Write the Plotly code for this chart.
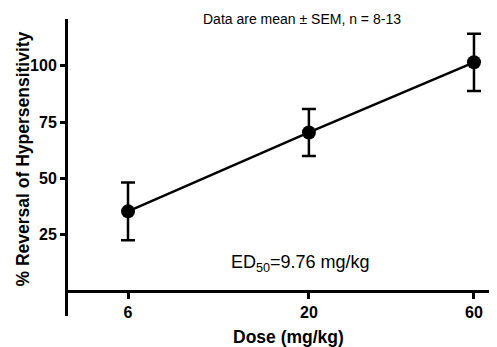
import plotly.graph_objects as go

doses = [6, 20, 60]
mean_reversal = [35.4, 70.4, 101.5]
sem = [12.8, 10.4, 12.7]
y_ticks = [25, 50, 75, 100]
x_ticks = [6, 20, 60]

fig = go.Figure()
fig.add_trace(go.Scatter(
    x=doses, y=mean_reversal, mode="lines+markers",
    line=dict(color="black", width=2.5),
    marker=dict(color="black", size=14),
    error_y=dict(type="data", array=sem, visible=True, color="black", thickness=2.5, width=7),
    showlegend=False,
))

# page body has an 8px margin; work in window pixels and shift
OFF = 8
W, H = 497 - OFF, 347 - OFF
L, T, R, B = 68 - OFF, 19 - OFF, 497 - OFF, 316 - OFF
y_lo, y_hi = -11, 120.7


def px(xp):
    return (xp - OFF - L) / (R - L)


def py(yp):
    return (B - (yp - OFF)) / (B - T)


fig.update_layout(
    width=W, height=H,
    margin=dict(l=L, r=W - R, t=T, b=H - B),
    paper_bgcolor="white", plot_bgcolor="white",
    font=dict(family="Liberation Sans, Arial, sans-serif", color="black"),
    xaxis=dict(
        type="log", range=[0.6047, 1.8447],
        tickvals=x_ticks, ticktext=[str(v) for v in x_ticks],
        ticks="outside", ticklen=6, tickwidth=3, tickcolor="black",
        showline=True, linewidth=3, linecolor="black",
        showgrid=False, zeroline=False, automargin=False,
        anchor="free", position=(0 - y_lo) / (y_hi - y_lo),
        tickfont=dict(size=16, weight="bold"),
    ),
    yaxis=dict(
        range=[y_lo, y_hi],
        tickvals=y_ticks,
        ticks="outside", ticklen=5, tickwidth=3, tickcolor="black",
        showline=True, linewidth=3, linecolor="black",
        showgrid=False, zeroline=False, automargin=False,
        tickfont=dict(size=16, weight="bold"),
    ),
    annotations=[
        dict(text="% Reversal of Hypersensitivity", xref="paper", yref="paper",
             x=px(22), y=py(159.5), xanchor="center", yanchor="middle", textangle=-90,
             showarrow=False, font=dict(size=17.5, weight="bold")),
        dict(text="Dose (mg/kg)", xref="paper", yref="paper",
             x=px(288), y=py(337), xanchor="center", yanchor="middle",
             showarrow=False, font=dict(size=17.5, weight="bold")),
        dict(text="ED<sub>50</sub>=9.76 mg/kg", xref="paper", yref="paper",
             x=px(300), y=py(263), xanchor="center", yanchor="middle", showarrow=False,
             font=dict(size=18)),
        dict(text="Data are mean ± SEM, n = 8-13", xref="paper", yref="paper",
             x=px(302), y=py(19), xanchor="center", yanchor="middle",
             showarrow=False, font=dict(size=14)),
    ],
)

fig.write_html("out.html")
